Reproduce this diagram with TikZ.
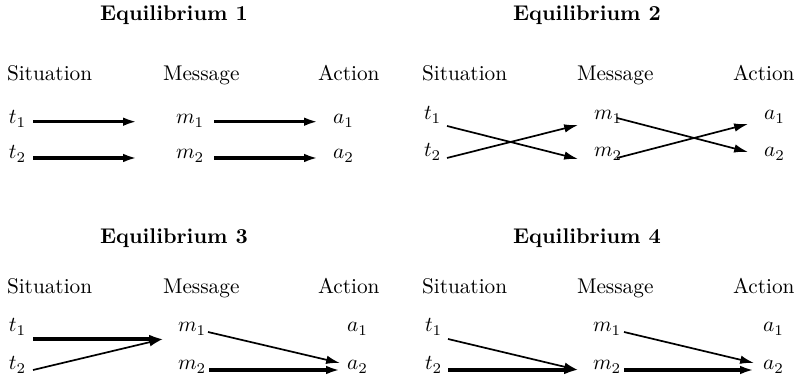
\documentclass[tikz,border=0pt]{standalone}
\usetikzlibrary{arrows.meta}
\begin{document}
\begin{tikzpicture}[x=0.47pt,y=-0.47pt,
  lbl/.style={anchor=base west,inner sep=0pt,outer sep=0pt},
  ttl/.style={anchor=base,inner sep=0pt,font=\bfseries},
  strong/.style={line width=1.5pt,-{Latex[length=6.5pt,width=4pt]}},
  weak/.style={line width=0.8pt,-{Latex[length=6.5pt,width=4pt]}}]
\useasboundingbox (0,0) rectangle (801,379);

% ---------- Panel 1 ----------
\node[ttl] (T1) at (174,21) {Equilibrium 1};
\node[lbl] (S1) at (7,81) {Situation};
\node[lbl] (M1) at (163,81) {Message};
\node[lbl] (A1) at (318,81) {Action};
\node[lbl] (p1t1) at (9,124) {$t_1$};
\node[lbl] (p1t2) at (9,159) {$t_2$};
\node[lbl] (p1m1) at (176,124) {$m_1$};
\node[lbl] (p1m2) at (176,159) {$m_2$};
\node[lbl] (p1a1) at (333,124) {$a_1$};
\node[lbl] (p1a2) at (333,159) {$a_2$};
\coordinate (p1ta) at (33,121.7);  \coordinate (p1tb) at (137,121.7);
\coordinate (p1tc) at (33,158);    \coordinate (p1td) at (137,158);
\coordinate (p1ma) at (214,121.7); \coordinate (p1mb) at (318,121.7);
\coordinate (p1mc) at (214,158);   \coordinate (p1md) at (318,158);
\draw[strong] (p1ta) -- (p1tb);
\draw[strong] (p1tc) -- (p1td);
\draw[strong] (p1ma) -- (p1mb);
\draw[strong] (p1mc) -- (p1md);

% ---------- Panel 2 ----------
\node[ttl] (T2) at (587,21) {Equilibrium 2};
\node[lbl] (S2) at (422,81) {Situation};
\node[lbl] (M2) at (577,81) {Message};
\node[lbl] (A2) at (733,81) {Action};
\node[lbl] (p2t1) at (424,120) {$t_1$};
\node[lbl] (p2t2) at (424,157) {$t_2$};
\node[lbl] (p2m1) at (594,120) {$m_1$};
\node[lbl] (p2m2) at (594,157) {$m_2$};
\node[lbl] (p2a1) at (764,120) {$a_1$};
\node[lbl] (p2a2) at (764,157) {$a_2$};
\coordinate (p2ta) at (447,126); \coordinate (p2tb) at (578,159);
\coordinate (p2tc) at (447,158); \coordinate (p2td) at (578,125);
\coordinate (p2ma) at (617,118); \coordinate (p2mb) at (748,152);
\coordinate (p2mc) at (617,158); \coordinate (p2md) at (748,124);
\draw[weak] (p2ta) -- (p2tb);
\draw[weak] (p2tc) -- (p2td);
\draw[weak] (p2ma) -- (p2mb);
\draw[weak] (p2mc) -- (p2md);

% ---------- Panel 3 ----------
\node[ttl] (T3) at (174,244) {Equilibrium 3};
\node[lbl] (S3) at (7,294) {Situation};
\node[lbl] (M3) at (163,294) {Message};
\node[lbl] (A3) at (318,294) {Action};
\node[lbl] (p3t1) at (9,332) {$t_1$};
\node[lbl] (p3t2) at (9,370) {$t_2$};
\node[lbl] (p3m1) at (178,332) {$m_1$};
\node[lbl] (p3m2) at (178,370) {$m_2$};
\node[lbl] (p3a1) at (347,332) {$a_1$};
\node[lbl] (p3a2) at (347,370) {$a_2$};
\coordinate (p3ta) at (33,339);  \coordinate (p3tb) at (163,339);
\coordinate (p3tc) at (33,370);
\coordinate (p3ma) at (208,332); \coordinate (p3mb) at (340,363);
\coordinate (p3mc) at (209,370); \coordinate (p3md) at (340,370);
\draw[strong] (p3ta) -- (p3tb);
\draw[weak] (p3tc) -- (p3tb);
\draw[weak] (p3ma) -- (p3mb);
\draw[strong] (p3mc) -- (p3md);

% ---------- Panel 4 ----------
\node[ttl] (T4) at (587,244) {Equilibrium 4};
\node[lbl] (S4) at (422,294) {Situation};
\node[lbl] (M4) at (577,294) {Message};
\node[lbl] (A4) at (733,294) {Action};
\node[lbl] (p4t1) at (425,332) {$t_1$};
\node[lbl] (p4t2) at (425,370) {$t_2$};
\node[lbl] (p4m1) at (593,332) {$m_1$};
\node[lbl] (p4m2) at (593,370) {$m_2$};
\node[lbl] (p4a1) at (763,332) {$a_1$};
\node[lbl] (p4a2) at (763,370) {$a_2$};
\coordinate (p4ta) at (448,339); \coordinate (p4tb) at (578,370);
\coordinate (p4tc) at (448,370);
\coordinate (p4ma) at (624,332); \coordinate (p4mb) at (754,363);
\coordinate (p4mc) at (624,370); \coordinate (p4md) at (754,370);
\draw[weak] (p4ta) -- (p4tb);
\draw[strong] (p4tc) -- (p4tb);
\draw[weak] (p4ma) -- (p4mb);
\draw[strong] (p4mc) -- (p4md);
\end{tikzpicture}
\end{document}
